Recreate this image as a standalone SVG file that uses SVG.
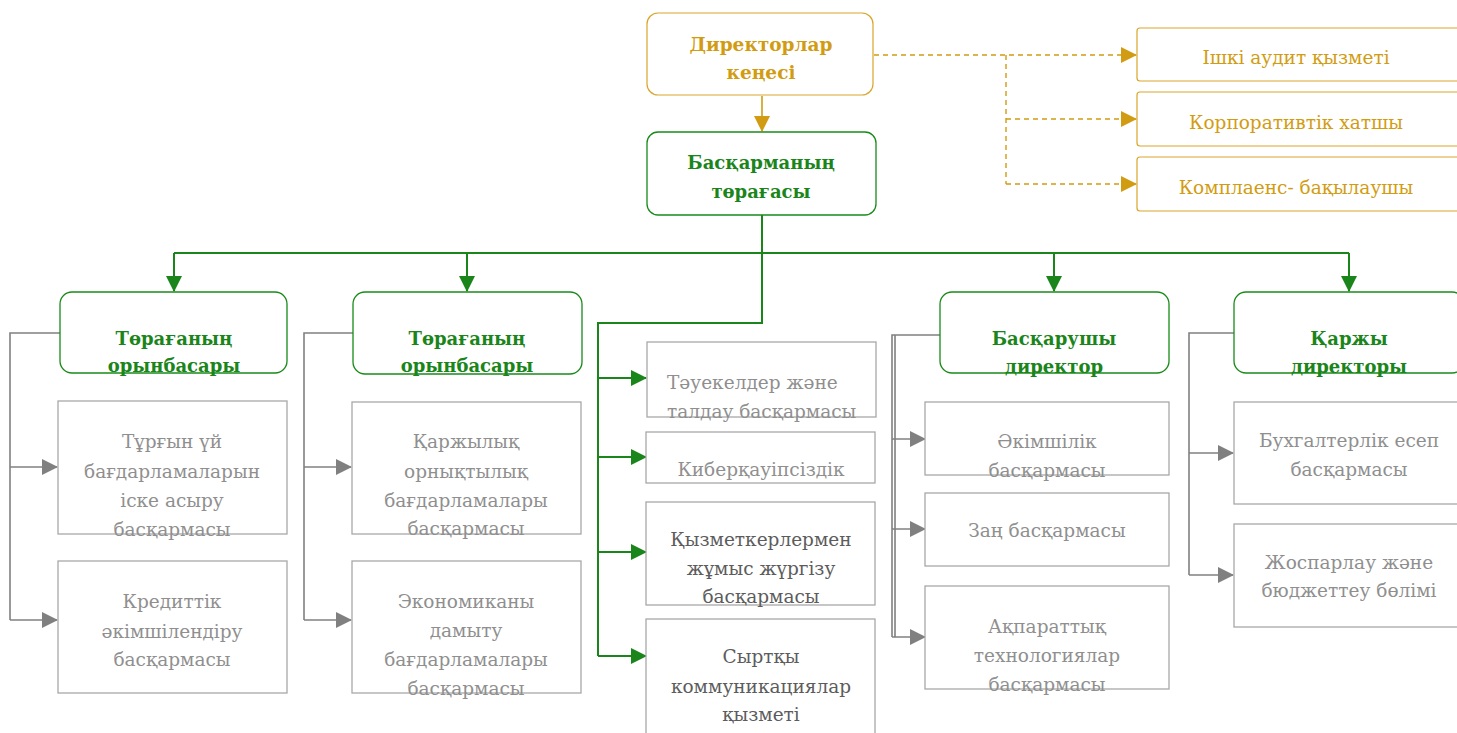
<svg xmlns="http://www.w3.org/2000/svg" width="1457" height="733" viewBox="0 0 1457 733">
<style>
text{font-family:"DejaVu Serif","Liberation Serif",serif;font-size:18.5px;text-anchor:middle}
.gold{fill:#d29c12}
.gt{fill:#1a851a;font-weight:bold;font-size:18px}
.gy{fill:#8f8f8f}
.dk{fill:#5c5c5c}
.bgold{fill:#fff;stroke:#d9a52a;stroke-width:1.2}
.bgreen{fill:#fff;stroke:#1a8a1a;stroke-width:1.3}
.bgray{fill:#fff;stroke:#a8a8a8;stroke-width:1.3}
.cg{fill:none;stroke:#1a851a;stroke-width:2}
.cgy{fill:none;stroke:#808080;stroke-width:1.6}
.cd{fill:none;stroke:#d29c12;stroke-width:1.4;stroke-dasharray:5,4}
.cgo{fill:none;stroke:#d29c12;stroke-width:1.6}
</style>
<defs>
<marker id="ag" markerUnits="userSpaceOnUse" markerWidth="16" markerHeight="16" refX="15" refY="8" orient="auto"><path d="M0,0 L16,8 L0,16 z" fill="#1a851a"/></marker>
<marker id="agy" markerUnits="userSpaceOnUse" markerWidth="16" markerHeight="16" refX="15" refY="8" orient="auto"><path d="M0,0 L16,8 L0,16 z" fill="#808080"/></marker>
<marker id="ao" markerUnits="userSpaceOnUse" markerWidth="16" markerHeight="16" refX="15" refY="8" orient="auto"><path d="M0,0 L16,8 L0,16 z" fill="#d29c12"/></marker>
</defs>

<g id="connectors">
<path class="cgo" d="M762,96 V131" marker-end="url(#ao)"/>
<path class="cd" d="M874,55 H1136" marker-end="url(#ao)"/>
<path class="cd" d="M1006,55 V184"/>
<path class="cd" d="M1006,119 H1136" marker-end="url(#ao)"/>
<path class="cd" d="M1006,184 H1136" marker-end="url(#ao)"/>
<path class="cg" d="M762,215 V253 M174,253 H1349"/>
<path class="cg" d="M174,253 V291" marker-end="url(#ag)"/>
<path class="cg" d="M467,253 V291" marker-end="url(#ag)"/>
<path class="cg" d="M1054,253 V291" marker-end="url(#ag)"/>
<path class="cg" d="M1349,253 V291" marker-end="url(#ag)"/>
<path class="cg" d="M762,253 V323 H598 V656"/>
<path class="cg" d="M598,378 H646" marker-end="url(#ag)"/>
<path class="cg" d="M598,457 H646" marker-end="url(#ag)"/>
<path class="cg" d="M598,552 H646" marker-end="url(#ag)"/>
<path class="cg" d="M598,656 H646" marker-end="url(#ag)"/>
<path class="cgy" d="M60,333 H10 V620"/>
<path class="cgy" d="M10,467 H57" marker-end="url(#agy)"/>
<path class="cgy" d="M10,620 H57" marker-end="url(#agy)"/>
<path class="cgy" d="M353,333 H304 V620"/>
<path class="cgy" d="M304,467 H351" marker-end="url(#agy)"/>
<path class="cgy" d="M304,620 H351" marker-end="url(#agy)"/>
<path class="cgy" d="M940,335 H892 V637 M895,335 V637"/>
<path class="cgy" d="M892,439 H925" marker-end="url(#agy)"/>
<path class="cgy" d="M892,529 H925" marker-end="url(#agy)"/>
<path class="cgy" d="M892,637 H925" marker-end="url(#agy)"/>
<path class="cgy" d="M1234,333 H1189 V575"/>
<path class="cgy" d="M1189,453 H1233" marker-end="url(#agy)"/>
<path class="cgy" d="M1189,575 H1233" marker-end="url(#agy)"/>
</g>

<g id="board">
<rect class="bgold" x="647" y="13" width="226" height="82" rx="11"/>
<text class="gold" font-weight="bold" x="761" y="51">Директорлар</text>
<text class="gold" font-weight="bold" x="761" y="79">кеңесі</text>
</g>
<g id="audit">
<rect class="bgold" x="1137" y="28" width="326" height="53" rx="3"/>
<text class="gold" x="1296" y="64">Ішкі аудит қызметі</text>
</g>
<g id="secretary">
<rect class="bgold" x="1137" y="92" width="326" height="54" rx="3"/>
<text class="gold" x="1296" y="129">Корпоративтік хатшы</text>
</g>
<g id="compliance">
<rect class="bgold" x="1137" y="157" width="326" height="54" rx="3"/>
<text class="gold" x="1296" y="194">Комплаенс- бақылаушы</text>
</g>

<g id="chairman">
<rect class="bgreen" x="647" y="132" width="229" height="83" rx="11"/>
<text class="gt" x="761" y="169">Басқарманың</text>
<text class="gt" x="761" y="198">төрағасы</text>
</g>

<g id="deputy1">
<rect class="bgreen" x="60" y="292" width="227" height="81" rx="12"/>
<text class="gt" x="174" y="345">Төрағаның</text>
<text class="gt" x="174" y="372">орынбасары</text>
</g>
<g id="housing">
<rect class="bgray" x="58" y="401" width="229" height="133"/>
<text class="gy" x="172" y="448">Тұрғын үй</text>
<text class="gy" x="172" y="478">бағдарламаларын</text>
<text class="gy" x="172" y="507">іске асыру</text>
<text class="gy" x="172" y="536">басқармасы</text>
</g>
<g id="credit">
<rect class="bgray" x="58" y="561" width="229" height="132"/>
<text class="gy" x="172" y="608">Кредиттік</text>
<text class="gy" x="172" y="638">әкімшілендіру</text>
<text class="gy" x="172" y="666">басқармасы</text>
</g>

<g id="deputy2">
<rect class="bgreen" x="353" y="292" width="229" height="82" rx="12"/>
<text class="gt" x="467" y="345">Төрағаның</text>
<text class="gt" x="467" y="372">орынбасары</text>
</g>
<g id="finstab">
<rect class="bgray" x="352" y="402" width="229" height="132"/>
<text class="gy" x="466" y="448">Қаржылық</text>
<text class="gy" x="466" y="478">орнықтылық</text>
<text class="gy" x="466" y="507">бағдарламалары</text>
<text class="gy" x="466" y="535">басқармасы</text>
</g>
<g id="econ">
<rect class="bgray" x="352" y="561" width="229" height="132"/>
<text class="gy" x="466" y="608">Экономиканы</text>
<text class="gy" x="466" y="637">дамыту</text>
<text class="gy" x="466" y="666">бағдарламалары</text>
<text class="gy" x="466" y="695">басқармасы</text>
</g>

<g id="risk">
<rect class="bgray" x="647" y="342" width="229" height="75"/>
<text class="gy" x="667" y="389" style="text-anchor:start">Тәуекелдер және</text>
<text class="gy" x="667" y="418" style="text-anchor:start">талдау басқармасы</text>
</g>
<g id="cyber">
<rect class="bgray" x="646" y="432" width="229" height="51"/>
<text class="gy" x="761" y="476">Киберқауіпсіздік</text>
</g>
<g id="hr">
<rect class="bgray" x="646" y="502" width="229" height="103"/>
<text class="dk" x="761" y="546">Қызметкерлермен</text>
<text class="dk" x="761" y="575">жұмыс жүргізу</text>
<text class="dk" x="761" y="603">басқармасы</text>
</g>
<g id="comms">
<rect class="bgray" x="646" y="619" width="229" height="130"/>
<text class="dk" x="761" y="663">Сыртқы</text>
<text class="dk" x="761" y="693">коммуникациялар</text>
<text class="dk" x="761" y="721">қызметі</text>
</g>

<g id="mdirector">
<rect class="bgreen" x="940" y="292" width="229" height="81" rx="12"/>
<text class="gt" x="1054" y="345">Басқарушы</text>
<text class="gt" x="1054" y="373">директор</text>
</g>
<g id="admin">
<rect class="bgray" x="925" y="402" width="244" height="73"/>
<text class="gy" x="1047" y="448">Әкімшілік</text>
<text class="gy" x="1047" y="477">басқармасы</text>
</g>
<g id="legal">
<rect class="bgray" x="925" y="493" width="244" height="73"/>
<text class="gy" x="1047" y="537">Заң басқармасы</text>
</g>
<g id="it">
<rect class="bgray" x="925" y="586" width="244" height="103"/>
<text class="gy" x="1047" y="633">Ақпараттық</text>
<text class="gy" x="1047" y="662">технологиялар</text>
<text class="gy" x="1047" y="691">басқармасы</text>
</g>

<g id="cfo">
<rect class="bgreen" x="1234" y="292" width="230" height="81" rx="12"/>
<text class="gt" x="1349" y="345">Қаржы</text>
<text class="gt" x="1349" y="373">директоры</text>
</g>
<g id="accounting">
<rect class="bgray" x="1234" y="402" width="230" height="102"/>
<text class="gy" x="1349" y="447">Бухгалтерлік есеп</text>
<text class="gy" x="1349" y="476">басқармасы</text>
</g>
<g id="planning">
<rect class="bgray" x="1234" y="524" width="230" height="103"/>
<text class="gy" x="1349" y="569">Жоспарлау және</text>
<text class="gy" x="1349" y="597">бюджеттеу бөлімі</text>
</g>
</svg>
